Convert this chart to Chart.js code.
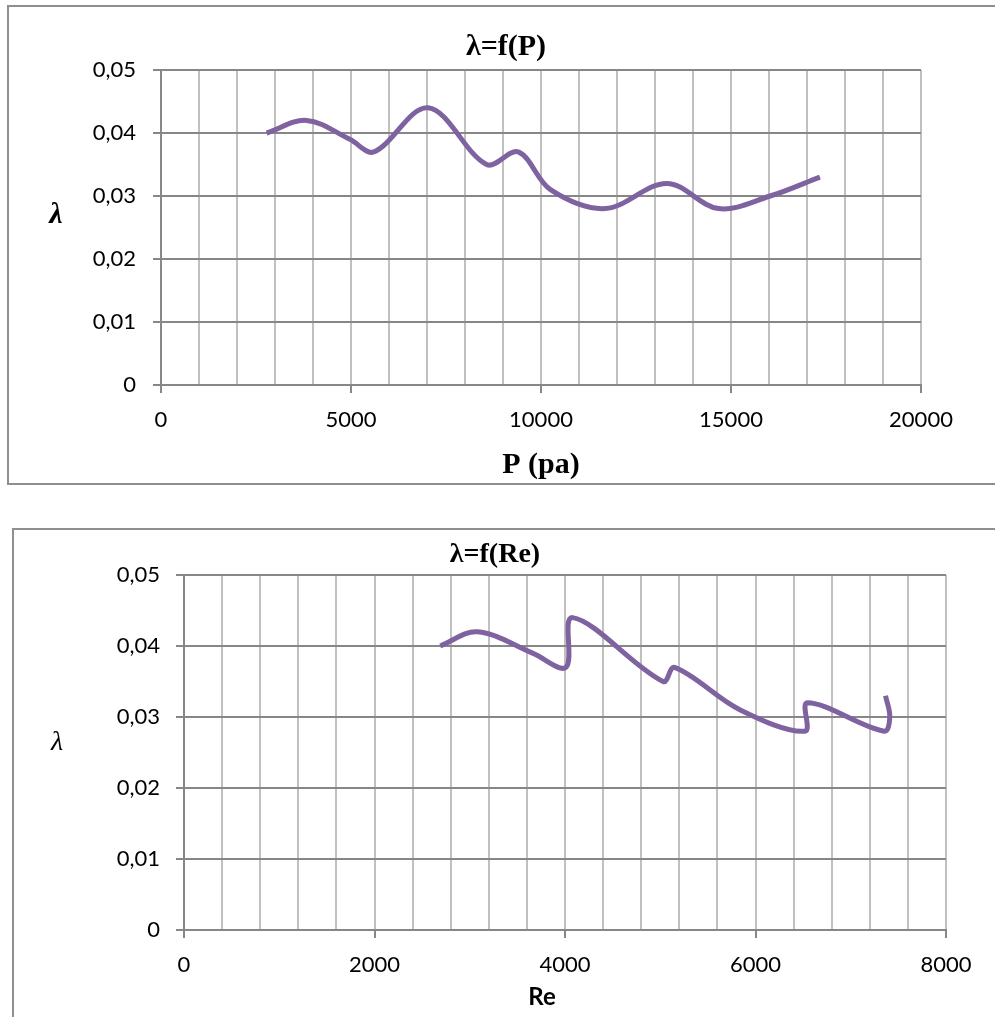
<!DOCTYPE html>
<html><head><meta charset="utf-8">
<script src="https://cdn.jsdelivr.net/npm/chart.js@4"></script>
<style>
html,body{margin:0;padding:0;background:#fff;overflow:hidden;width:995px;height:1017px;position:relative;}
.box{position:absolute;border:2px solid #8f8f8f;box-sizing:border-box;}
canvas{position:absolute;}
</style></head><body>
<div class="box" style="left:7px;top:5px;width:1000px;height:480px"></div>
<div class="box" style="left:12px;top:528px;width:1000px;height:600px"></div>
<canvas id="c1" width="995" height="500" style="left:0;top:0"></canvas>
<canvas id="c2" width="995" height="517" style="left:0;top:500px"></canvas>
<script>
// ---- data ----
const pressure  = [2780, 3830, 4970, 5600, 7030, 8570, 9400, 10250, 11690, 13310, 14670, 16030, 17340];
const lambdaP   = [0.040, 0.042, 0.039, 0.037, 0.044, 0.035, 0.037, 0.031, 0.028, 0.032, 0.028, 0.030, 0.033];
const reynolds  = [2690, 3080, 3660, 4010, 4080, 5030, 5150, 5840, 6520, 6545, 7350, 7410, 7365];
const lambdaRe  = [0.040, 0.042, 0.039, 0.037, 0.044, 0.035, 0.037, 0.031, 0.028, 0.032, 0.028, 0.030, 0.033];
const pTickLabels  = [0, 5000, 10000, 15000, 20000];
const reTickLabels = [0, 2000, 4000, 6000, 8000];
const lambdaTickLabels = ['0', '0,01', '0,02', '0,03', '0,04', '0,05'];

const LINE = '#7f63a1', HGRID = '#878787', VGRID = '#c0c0c0';
const tickFont = {family: 'Lato', size: 22};

const freeText = {
  id: 'freeText',
  afterDraw(chart, args, opts) {
    const ctx = chart.ctx;
    (opts.items || []).forEach(t => {
      ctx.save();
      ctx.font = t.font; ctx.fillStyle = '#000';
      ctx.textAlign = 'center'; ctx.textBaseline = 'middle';
      ctx.fillText(t.text, t.x, t.y);
      ctx.restore();
    });
  }
};

function makeChart(id, xs, ys, cfg) {
  return new Chart(document.getElementById(id), {
    type: 'scatter',
    data: {datasets: [{
      data: xs.map((x, i) => ({x: x, y: ys[i]})),
      showLine: true, borderColor: LINE, backgroundColor: LINE,
      borderWidth: 5, pointRadius: 0, tension: 0.35, fill: false
    }]},
    options: {
      responsive: false, animation: false,
      layout: {padding: cfg.padding},
      plugins: {legend: {display: false}, tooltip: {enabled: false}, title: {display: false},
        freeText: {items: cfg.texts}},
      scales: {
        x: {
          type: 'linear', min: 0, max: cfg.xMax,
          ticks: {stepSize: cfg.xStep, autoSkip: false, maxRotation: 0, padding: 14, color: '#000', font: tickFont,
            callback: v => cfg.xTicks.includes(v) ? String(v) : ''},
          grid: {color: VGRID, lineWidth: 2, tickLength: 8,
            tickColor: c => (c.tick && cfg.xTicks.includes(c.tick.value)) ? HGRID : 'rgba(0,0,0,0)'},
          border: {color: HGRID, width: 2},
          afterFit: s => { s.height = cfg.xH; }
        },
        y: {
          min: 0, max: 0.05,
          ticks: {stepSize: 0.01, padding: cfg.yPad, color: '#000', font: tickFont,
            callback: v => lambdaTickLabels[Math.round(v / 0.01)]},
          grid: {color: HGRID, lineWidth: 2, tickLength: 8, tickColor: HGRID},
          border: {color: HGRID, width: 2},
          afterFit: s => { s.width = cfg.yW; }
        }
      }
    },
    plugins: [freeText]
  });
}

makeChart('c1', pressure, lambdaP, {
  padding: {left: 0, top: 70, right: 74, bottom: 0},
  xMax: 20000, xStep: 1000, xTicks: pTickLabels, xH: 115, yW: 161, yPad: 17,
  texts: [
    {text: 'λ=f(P)', font: 'bold 30px "Liberation Serif"', x: 506, y: 47},
    {text: 'λ', font: 'bold italic 30px "Liberation Serif"', x: 56, y: 215},
    {text: 'P (pa)', font: 'bold 30px "Liberation Serif"', x: 541, y: 465}
  ]
});

makeChart('c2', reynolds, lambdaRe, {
  padding: {left: 0, top: 75, right: 49, bottom: 0},
  xMax: 8000, xStep: 400, xTicks: reTickLabels, xH: 87, yW: 184, yPad: 16,
  texts: [
    {text: 'λ=f(Re)', font: 'bold 28px "Liberation Serif"', x: 495, y: 55},
    {text: 'λ', font: 'italic 28px "Liberation Serif"', x: 57, y: 243},
    {text: 'Re', font: 'bold 24px Lato', x: 542, y: 497}
  ]
});
</script>
</body></html>
